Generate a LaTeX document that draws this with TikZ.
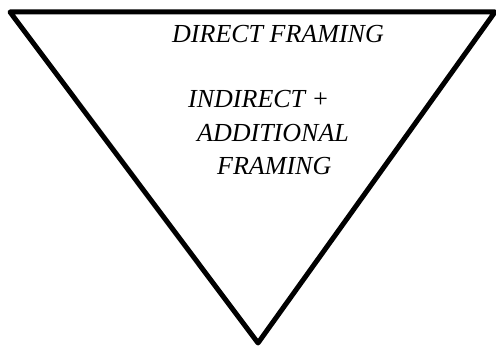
\documentclass[tikz,border=0pt]{standalone}
\usepackage{fontspec}
\setmainfont{Liberation Serif}
\begin{document}
\begin{tikzpicture}[x=1pt,y=-1pt,
  lbl/.style={anchor=base west,inner sep=0pt,font=\itshape\fontsize{26}{30}\selectfont}]
\useasboundingbox (0,0) rectangle (496,347);
\coordinate (tl) at (10,12);
\coordinate (tr) at (495,12);
\coordinate (ap) at (258,343);
\draw[line width=5pt,line join=round] (tl) -- (tr) -- (ap) -- cycle;
\node[lbl] (d) at (172,43) {DIRECT FRAMING};
\node[lbl] (i1) at (188,108) {INDIRECT +};
\node[lbl] (i2) at (197,142) {ADDITIONAL};
\node[lbl] (i3) at (217,175) {FRAMING};
\end{tikzpicture}
\end{document}
